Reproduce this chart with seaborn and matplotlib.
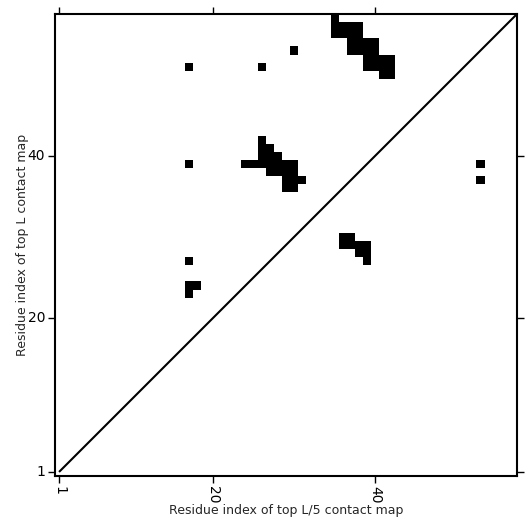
import numpy as np
import matplotlib
matplotlib.use("Agg")
import matplotlib.pyplot as plt
import seaborn as sns

L = 57  # sequence length
# contact cells: (column residue, row residue)
contact_cols = [35,
                35, 36, 37, 38,
                35, 36, 37, 38,
                37, 38, 39, 40,
                37, 38, 39, 40,
                39, 40, 41, 42,
                39, 40, 41, 42,
                41, 42,
                17, 26, 30,
                26, 26, 27, 26, 27, 28,
                24, 25, 26, 27, 28, 29, 30,
                27, 28, 29, 30,
                29, 30, 31,
                29, 30,
                17, 53, 53,
                36, 37, 36, 37, 38, 39, 38, 39, 39,
                17, 17, 18, 17]
contact_rows = [57,
                56, 56, 56, 56,
                55, 55, 55, 55,
                54, 54, 54, 54,
                53, 53, 53, 53,
                52, 52, 52, 52,
                51, 51, 51, 51,
                50, 50,
                51, 51, 53,
                42, 41, 41, 40, 40, 40,
                39, 39, 39, 39, 39, 39, 39,
                38, 38, 38, 38,
                37, 37, 37,
                36, 36,
                39, 39, 37,
                30, 30, 29, 29, 29, 29, 28, 28, 27,
                27, 24, 24, 23]
tick_values = [1, 20, 40]
xlabel = "Residue index of top L/5 contact map"
ylabel = "Residue index of top L contact map"

sns.set_style("white")
plt.rcParams['font.family'] = ['DejaVu Sans']

mat = np.zeros((L, L))
for c, r in zip(contact_cols, contact_rows):
    mat[r - 1, c - 1] = 1

fig = plt.figure(figsize=(5.31, 5.31), dpi=100)
ax = fig.add_axes([55 / 531, 55 / 531, 462 / 531, 462 / 531])
sns.heatmap(mat, cmap=['white', 'black'], vmin=0, vmax=1, cbar=False, ax=ax)

# diagonal line starting at residue 1
ax.plot([0.5, L + 1], [0.5, L + 1], color='black', lw=1.5, solid_capstyle='butt')
ax.set_xlim(0, L)
ax.set_ylim(0, L)

ax.set_xticks([t - 0.5 for t in tick_values])
ax.set_xticklabels([str(t) for t in tick_values], rotation=-90)
ax.set_yticks([t - 0.5 for t in tick_values])
ax.set_yticklabels([str(t) for t in tick_values], rotation=0)
ax.tick_params(axis='both', which='major', direction='out', length=5, width=1,
               top=True, right=True, bottom=True, left=True,
               labelsize=10, colors='black', pad=2)
for s in ax.spines.values():
    s.set_visible(True)
    s.set_linewidth(1.5)
    s.set_color('black')

ax.set_xlabel(xlabel, fontsize=9, labelpad=0.5)
ax.set_ylabel(ylabel, fontsize=9, labelpad=-1)

fig.savefig("out.png", dpi=100)
